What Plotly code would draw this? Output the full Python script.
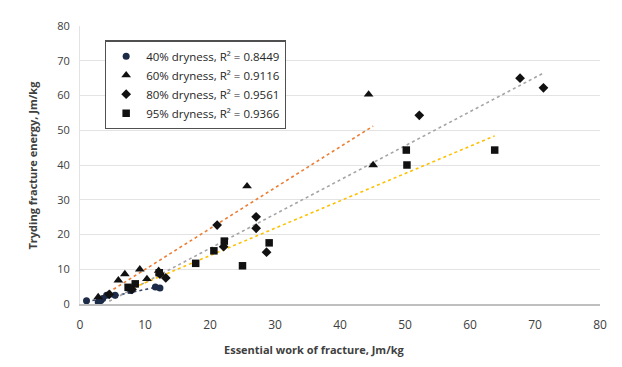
import numpy as np
import plotly.graph_objects as go

# Data
x40 = [1.0, 2.8, 3.2, 3.5, 4.1, 5.4, 7.8, 11.6, 12.3]
y40 = [0.9, 0.6, 1.0, 1.6, 2.5, 2.5, 3.9, 4.9, 4.6]

x60 = [2.8, 5.9, 6.9, 9.2, 10.3, 12.1, 12.3, 25.7, 44.4, 45.1]
y60 = [2.0, 6.8, 8.6, 10.0, 7.2, 9.6, 8.8, 33.9, 60.3, 40.0]

x80 = [4.5, 8.0, 12.3, 13.2, 21.1, 22.1, 27.1, 27.1, 28.7, 52.2, 67.7, 71.3]
y80 = [2.8, 4.2, 8.6, 7.5, 22.7, 16.5, 25.1, 21.8, 14.9, 54.3, 65.0, 62.2]

x95 = [7.4, 8.5, 12.2, 17.8, 20.6, 22.2, 25.0, 29.1, 50.2, 50.3, 63.8]
y95 = [4.8, 5.8, 9.0, 11.7, 15.3, 18.1, 11.0, 17.6, 44.3, 40.0, 44.3]

names = ["40% dryness, R² = 0.8449", "60% dryness, R² = 0.9116",
         "80% dryness, R² = 0.9561", "95% dryness, R² = 0.9366"]
symbols = ["circle", "triangle-up", "diamond", "square"]
marker_colors = ["#1c2b47", "#111111", "#111111", "#111111"]
trend_colors = ["#3b4a6a", "#ED7D31", "#A5A5A5", "#FFC000"]

x_ticks = [0, 10, 20, 30, 40, 50, 60, 70, 80]
y_ticks = [0, 10, 20, 30, 40, 50, 60, 70, 80]

series = [(x40, y40), (x60, y60), (x80, y80), (x95, y95)]

fig = go.Figure()

# Linear trendlines (least squares over each series' x-range)
for (xs, ys), col in zip(series, trend_colors):
    xs_a = np.array(xs)
    k, b = np.polyfit(xs_a, np.array(ys), 1)
    xl = np.array([xs_a.min(), xs_a.max()])
    fig.add_trace(go.Scatter(x=xl, y=k * xl + b, mode="lines",
                             line=dict(color=col, width=1.6, dash="dot"),
                             showlegend=False, hoverinfo="skip"))

sizes = [7, 8.5, 7.5, 7.5]
for (xs, ys), nm, sym, mc, sz in zip(series, names, symbols, marker_colors, sizes):
    fig.add_trace(go.Scatter(x=xs, y=ys, mode="markers", name=nm,
                             marker=dict(symbol=sym, color=mc, size=sz)))

font_family = "Open Sans, Liberation Sans, sans-serif"

fig.update_layout(
    width=614, height=359,
    margin=dict(l=72, r=22, t=10, b=63),
    paper_bgcolor="white", plot_bgcolor="white",
    font=dict(family=font_family, size=11, color="#404040"),
    showlegend=True,
    legend=dict(x=0.048, y=0.948, xanchor="left", yanchor="top",
                bordercolor="#505050", borderwidth=1.2, bgcolor="white",
                font=dict(size=11.5, color="#262626"),
                itemwidth=30, tracegroupgap=0),
    xaxis=dict(range=[0, 80], tickvals=x_ticks, showgrid=False, zeroline=False,
               showline=True, linecolor="#bfbfbf", linewidth=1.5,
               ticks="", ticklabelstandoff=9,
               tickfont=dict(size=12, color="#404040")),
    yaxis=dict(range=[0, 80], tickvals=y_ticks, showgrid=True,
               gridcolor="#e3e3e3", gridwidth=1, zeroline=False,
               showline=True, linecolor="#e3e3e3", linewidth=1,
               ticks="", ticklen=0, ticklabelstandoff=7,
               tickfont=dict(size=11, color="#404040")),
    annotations=[
        dict(text="<b>Essential work of fracture, Jm/kg</b>", xref="paper", yref="paper",
             x=(314 - 80) / 520, y=-0.128, xanchor="center", yanchor="top",
             showarrow=False, font=dict(size=11, color="#404040")),
        dict(text="<b>Tryding fracture energy, Jm/kg</b>", xref="paper", yref="paper",
             x=-0.075, y=0.5, xanchor="right", yanchor="middle", textangle=-90,
             showarrow=False, font=dict(size=11, color="#404040")),
    ],
)

fig.write_html("out.html")
